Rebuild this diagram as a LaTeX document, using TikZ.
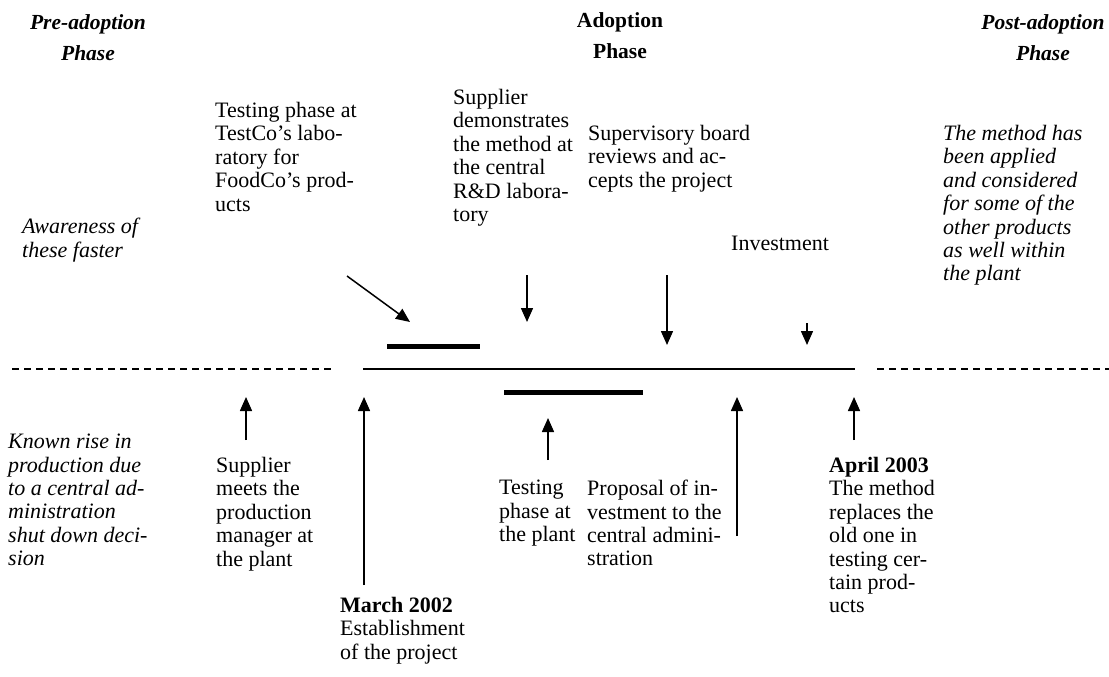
\documentclass[tikz,border=0pt]{standalone}
\usepackage{fontspec}
\setmainfont{Liberation Serif}
\usetikzlibrary{arrows.meta}
\tikzset{
  body/.style={anchor=north west, align=left, inner sep=0pt, font=\fontsize{22}{23.4}\selectfont},
  ibody/.style={body, font=\fontsize{22}{23.4}\selectfont\itshape},
  ttl/.style={anchor=north, align=center, inner sep=0pt, font=\fontsize{21.5}{31}\selectfont\bfseries},
  ittl/.style={ttl, font=\fontsize{21.5}{31}\selectfont\bfseries\itshape},
  arr/.style={line width=1.5pt, -{Triangle[length=14pt,width=12pt]}},
  axis/.style={line width=1.4pt},
  dash axis/.style={line width=1.4pt, dash pattern=on 7pt off 5pt},
  bar/.style={line width=5pt}
}
\begin{document}
\begin{tikzpicture}[x=1pt,y=-1pt]
\useasboundingbox (0,0) rectangle (1109,677);
% titles
\node[ittl] (tpre) at (88,14) {Pre-adoption\\Phase};
\node[ttl] (tad) at (620,12) {Adoption\\Phase};
\node[ittl] (tpost) at (1043,14) {Post-adoption\\Phase};
% upper texts
\node[body] (testco) at (215,102) {Testing phase at\\TestCo's labo-\\ratory for\\FoodCo's prod-\\ucts};
\node[body] (demo) at (453,89) {Supplier\\demonstrates\\the method at\\the central\\R\&D labora-\\tory};
\node[body] (superv) at (588,125) {Supervisory board\\reviews and ac-\\cepts the project};
\node[body] (invest) at (731,236) {Investment};
\node[ibody] (aware) at (22,218) {Awareness of\\these faster};
\node[ibody] (post) at (943,125) {The method has\\been applied\\and considered\\for some of the\\other products\\as well within\\the plant};
% lower texts
\node[ibody] (known) at (8,434) {Known rise in\\production due\\to a central ad-\\ministration\\shut down deci-\\sion};
\node[body] (suppmeet) at (216,457) {Supplier\\meets the\\production\\manager at\\the plant};
\node[body] (march) at (340,597) {\textbf{March 2002}\\Establishment\\of the project};
\node[body] (testplant) at (499,480) {Testing\\phase at\\the plant};
\node[body] (proposal) at (587,480) {Proposal of in-\\vestment to the\\central admini-\\stration};
\node[body] (april) at (829,457) {\textbf{April 2003}\\The method\\replaces the\\old one in\\testing cer-\\tain prod-\\ucts};
% timeline
\coordinate (d1a) at (12,369); \coordinate (d1b) at (333,369);
\coordinate (s1) at (363,369); \coordinate (s2) at (855,369);
\coordinate (d2a) at (877,369); \coordinate (d2b) at (1109,369);
\draw[dash axis] (d1a) -- (d1b);
\draw[axis] (s1) -- (s2);
\draw[dash axis] (d2a) -- (d2b);
% bars
\coordinate (b1a) at (387,346); \coordinate (b1b) at (480,346);
\coordinate (b2a) at (504,392); \coordinate (b2b) at (643,392);
\draw[bar] (b1a) -- (b1b);
\draw[bar] (b2a) -- (b2b);
% arrows above
\coordinate (a1s) at (347,276); \coordinate (a1e) at (410,322);
\coordinate (a2s) at (527,275); \coordinate (a2e) at (527,322);
\coordinate (a3s) at (667,275); \coordinate (a3e) at (667,345);
\coordinate (a4s) at (807,323); \coordinate (a4e) at (807,345);
\draw[arr] (a1s) -- (a1e);
\draw[arr] (a2s) -- (a2e);
\draw[arr] (a3s) -- (a3e);
\draw[arr] (a4s) -- (a4e);
% arrows below
\coordinate (u1s) at (246,440); \coordinate (u1e) at (246,397);
\coordinate (u2s) at (364,585); \coordinate (u2e) at (364,397);
\coordinate (u3s) at (548,460); \coordinate (u3e) at (548,418);
\coordinate (u4s) at (737,536); \coordinate (u4e) at (737,397);
\coordinate (u5s) at (854,440); \coordinate (u5e) at (854,397);
\draw[arr] (u1s) -- (u1e);
\draw[arr] (u2s) -- (u2e);
\draw[arr] (u3s) -- (u3e);
\draw[arr] (u4s) -- (u4e);
\draw[arr] (u5s) -- (u5e);
\end{tikzpicture}
\end{document}
